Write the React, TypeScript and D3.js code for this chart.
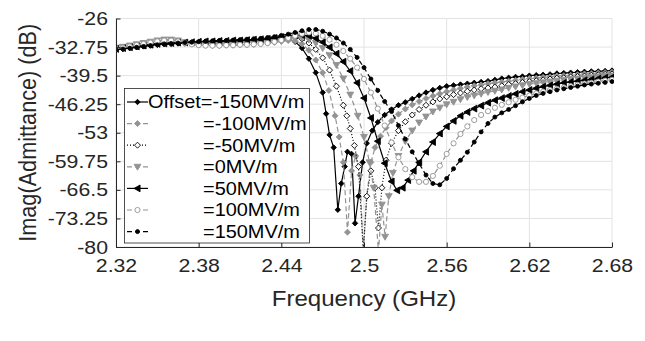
import React, { useEffect, useRef } from "react";
import { select, scaleLinear, line, axisLeft, axisBottom } from "d3";

// tick labels
const xTicks = [2.32, 2.38, 2.44, 2.5, 2.56, 2.62, 2.68];
const yTicks = [-26, -32.75, -39.5, -46.25, -53, -59.75, -66.5, -73.25, -80];

// [frequency GHz, Imag(Y) dB]
const offsetM150 = [
  [2.32, -33.4], [2.325, -33.2], [2.33, -33.0], [2.335, -32.8], [2.34, -32.6], [2.345, -32.4], [2.35, -32.2],
  [2.355, -32.1], [2.36, -32.0], [2.365, -31.9], [2.37, -31.9], [2.375, -31.8], [2.38, -31.7], [2.385, -31.6],
  [2.39, -31.6], [2.395, -31.5], [2.4, -31.5], [2.405, -31.4], [2.41, -31.4], [2.415, -31.3], [2.42, -31.2],
  [2.425, -31.1], [2.43, -31.0], [2.435, -30.9], [2.44, -30.8], [2.445, -30.9], [2.45, -31.5], [2.455, -33.0],
  [2.46, -35.5], [2.465, -38.8], [2.47, -43.5], [2.4725, -48.5], [2.475, -53.5], [2.478, -56.5], [2.481, -71.2],
  [2.4835, -65.0], [2.486, -61.0], [2.488, -57.5], [2.491, -58.0], [2.4935, -74.4], [2.496, -68.0], [2.499, -60.0],
  [2.502, -55.5], [2.506, -52.5], [2.51, -50.5], [2.515, -48.8], [2.52, -47.5], [2.525, -46.5], [2.53, -45.8],
  [2.535, -45.0], [2.54, -44.2], [2.545, -43.5], [2.55, -42.9], [2.555, -42.4], [2.56, -42.0], [2.565, -41.8],
  [2.57, -41.6], [2.575, -41.4], [2.58, -41.2], [2.585, -41.0], [2.59, -40.8], [2.595, -40.5], [2.6, -40.2],
  [2.605, -40.0], [2.61, -39.8], [2.615, -39.7], [2.62, -39.5], [2.625, -39.4], [2.63, -39.3], [2.635, -39.2],
  [2.64, -39.0], [2.645, -38.9], [2.65, -38.8], [2.655, -38.7], [2.66, -38.6], [2.665, -38.5], [2.67, -38.5],
  [2.675, -38.4], [2.68, -38.3],
];

const offsetM100 = [
  [2.32, -33.0], [2.325, -32.8], [2.33, -32.5], [2.335, -32.2], [2.34, -31.9], [2.345, -31.6], [2.35, -31.3],
  [2.355, -31.1], [2.36, -31.1], [2.365, -31.3], [2.37, -31.7], [2.375, -32.0], [2.38, -32.2], [2.385, -32.3],
  [2.39, -32.4], [2.395, -32.4], [2.4, -32.3], [2.405, -32.3], [2.41, -32.2], [2.415, -32.2], [2.42, -32.1],
  [2.425, -32.0], [2.43, -31.8], [2.435, -31.6], [2.44, -31.4], [2.445, -31.2], [2.45, -31.3], [2.455, -32.0],
  [2.46, -33.5], [2.465, -35.8], [2.47, -38.8], [2.4745, -43.0], [2.479, -49.0], [2.482, -54.0], [2.485, -60.0],
  [2.488, -76.5], [2.491, -62.0], [2.494, -58.5], [2.497, -63.0], [2.4995, -81.0], [2.502, -68.0], [2.505, -60.0],
  [2.508, -56.5], [2.512, -53.8], [2.516, -51.8], [2.52, -50.2], [2.525, -48.6], [2.53, -47.4], [2.535, -46.4],
  [2.54, -45.6], [2.545, -44.9], [2.55, -44.3], [2.555, -43.8], [2.56, -43.3], [2.565, -42.9], [2.57, -42.5],
  [2.575, -42.2], [2.58, -41.9], [2.585, -41.7], [2.59, -41.4], [2.595, -41.2], [2.6, -41.0], [2.605, -40.8],
  [2.61, -40.6], [2.615, -40.4], [2.62, -40.2], [2.625, -40.1], [2.63, -39.9], [2.635, -39.8], [2.64, -39.6],
  [2.645, -39.5], [2.65, -39.4], [2.655, -39.3], [2.66, -39.1], [2.665, -39.0], [2.67, -38.9], [2.675, -38.8],
  [2.68, -38.7],
];

const offsetM50 = [
  [2.32, -33.3], [2.325, -33.1], [2.33, -32.9], [2.335, -32.7], [2.34, -32.5], [2.345, -32.3], [2.35, -32.1],
  [2.355, -32.0], [2.36, -31.9], [2.365, -31.8], [2.37, -31.8], [2.375, -31.7], [2.38, -31.6], [2.385, -31.5],
  [2.39, -31.5], [2.395, -31.4], [2.4, -31.4], [2.405, -31.3], [2.41, -31.3], [2.415, -31.2], [2.42, -31.1],
  [2.425, -31.0], [2.43, -30.9], [2.435, -30.8], [2.44, -30.6], [2.445, -30.4], [2.45, -30.4], [2.455, -30.8],
  [2.46, -31.8], [2.465, -33.3], [2.47, -35.3], [2.475, -38.2], [2.48, -42.0], [2.485, -46.5], [2.4875, -49.0],
  [2.49, -52.0], [2.493, -56.0], [2.496, -61.0], [2.4995, -81.0], [2.502, -68.0], [2.505, -62.0], [2.508, -66.0],
  [2.5105, -75.5], [2.513, -66.0], [2.516, -59.5], [2.52, -55.5], [2.525, -52.5], [2.53, -50.4], [2.535, -48.8],
  [2.54, -47.5], [2.545, -46.5], [2.55, -45.7], [2.555, -45.0], [2.56, -44.5], [2.565, -44.0], [2.57, -43.6],
  [2.575, -43.2], [2.58, -42.9], [2.585, -42.6], [2.59, -42.4], [2.595, -42.2], [2.6, -41.9], [2.605, -41.6],
  [2.61, -41.4], [2.615, -41.1], [2.62, -40.9], [2.625, -40.7], [2.63, -40.5], [2.635, -40.3], [2.64, -40.1],
  [2.645, -40.0], [2.65, -39.8], [2.655, -39.7], [2.66, -39.6], [2.665, -39.4], [2.67, -39.3], [2.675, -39.2],
  [2.68, -39.1],
];

const offset0 = [
  [2.32, -32.9], [2.325, -32.7], [2.33, -32.4], [2.335, -32.1], [2.34, -31.8], [2.345, -31.5], [2.35, -31.2],
  [2.355, -31.0], [2.36, -31.0], [2.365, -31.2], [2.37, -31.6], [2.375, -31.9], [2.38, -32.1], [2.385, -32.2],
  [2.39, -32.3], [2.395, -32.3], [2.4, -32.2], [2.405, -32.2], [2.41, -32.1], [2.415, -32.1], [2.42, -32.0],
  [2.425, -31.9], [2.43, -31.7], [2.435, -31.5], [2.44, -31.3], [2.445, -31.0], [2.45, -30.7], [2.455, -30.6],
  [2.46, -31.0], [2.465, -31.8], [2.47, -33.0], [2.475, -34.7], [2.48, -37.0], [2.485, -40.2], [2.49, -44.0],
  [2.4955, -49.0], [2.5, -54.0], [2.504, -60.0], [2.507, -66.0], [2.5105, -81.0], [2.513, -70.0], [2.5153, -77.6],
  [2.518, -68.0], [2.521, -62.5], [2.525, -58.5], [2.53, -55.0], [2.535, -52.5], [2.54, -50.6], [2.545, -49.2],
  [2.55, -48.0], [2.555, -47.1], [2.56, -46.3], [2.565, -45.7], [2.57, -45.1], [2.575, -44.6], [2.58, -44.2],
  [2.585, -43.8], [2.59, -43.4], [2.595, -43.1], [2.6, -42.8], [2.605, -42.4], [2.61, -42.1], [2.615, -41.8],
  [2.62, -41.5], [2.625, -41.3], [2.63, -41.1], [2.635, -40.9], [2.64, -40.7], [2.645, -40.5], [2.65, -40.3],
  [2.655, -40.2], [2.66, -40.0], [2.665, -39.9], [2.67, -39.7], [2.675, -39.6], [2.68, -39.5],
];

const offsetP50 = [
  [2.32, -33.2], [2.325, -33.0], [2.33, -32.8], [2.335, -32.6], [2.34, -32.4], [2.345, -32.2], [2.35, -32.0],
  [2.355, -31.9], [2.36, -31.8], [2.365, -31.7], [2.37, -31.7], [2.375, -31.6], [2.38, -31.5], [2.385, -31.4],
  [2.39, -31.4], [2.395, -31.3], [2.4, -31.3], [2.405, -31.2], [2.41, -31.2], [2.415, -31.1], [2.42, -31.0],
  [2.425, -30.9], [2.43, -30.8], [2.435, -30.6], [2.44, -30.4], [2.445, -30.2], [2.45, -30.0], [2.455, -29.9],
  [2.46, -30.1], [2.465, -30.7], [2.47, -31.6], [2.475, -32.8], [2.48, -34.3], [2.485, -36.2], [2.49, -38.4],
  [2.495, -41.2], [2.5, -44.8], [2.505, -49.5], [2.51, -55.0], [2.515, -60.2], [2.52, -64.5], [2.524, -66.6],
  [2.528, -66.0], [2.532, -64.2], [2.536, -62.0], [2.54, -60.0], [2.545, -57.5], [2.55, -55.2], [2.555, -53.2],
  [2.56, -51.5], [2.565, -50.2], [2.57, -49.0], [2.575, -48.1], [2.58, -47.3], [2.585, -46.6], [2.59, -45.9],
  [2.595, -45.3], [2.6, -44.8], [2.605, -44.3], [2.61, -43.8], [2.615, -43.3], [2.62, -42.9], [2.625, -42.5],
  [2.63, -42.1], [2.635, -41.8], [2.64, -41.5], [2.645, -41.2], [2.65, -41.0], [2.655, -40.8], [2.66, -40.6],
  [2.665, -40.4], [2.67, -40.2], [2.675, -40.0], [2.68, -39.9],
];

const offsetP100 = [
  [2.32, -33.1], [2.325, -32.9], [2.33, -32.6], [2.335, -32.3], [2.34, -32.0], [2.345, -31.7], [2.35, -31.4],
  [2.355, -31.2], [2.36, -31.2], [2.365, -31.4], [2.37, -31.8], [2.375, -32.1], [2.38, -32.3], [2.385, -32.4],
  [2.39, -32.4], [2.395, -32.4], [2.4, -32.3], [2.405, -32.3], [2.41, -32.2], [2.415, -32.2], [2.42, -32.1],
  [2.425, -32.0], [2.43, -31.8], [2.435, -31.5], [2.44, -31.1], [2.445, -30.6], [2.45, -30.1], [2.455, -29.6],
  [2.46, -29.3], [2.465, -29.5], [2.47, -30.1], [2.475, -31.0], [2.48, -32.2], [2.485, -33.7], [2.49, -35.5],
  [2.495, -37.6], [2.5, -40.3], [2.505, -43.5], [2.51, -47.3], [2.515, -51.3], [2.52, -55.3], [2.525, -58.8],
  [2.53, -61.6], [2.535, -63.5], [2.54, -64.6], [2.545, -64.6], [2.55, -63.2], [2.555, -60.8], [2.56, -58.0],
  [2.565, -55.5], [2.57, -53.3], [2.575, -51.5], [2.58, -50.0], [2.585, -48.8], [2.59, -47.9], [2.595, -47.1],
  [2.6, -46.4], [2.605, -45.8], [2.61, -45.2], [2.615, -44.7], [2.62, -44.2], [2.625, -43.7], [2.63, -43.3],
  [2.635, -42.9], [2.64, -42.6], [2.645, -42.3], [2.65, -42.0], [2.655, -41.7], [2.66, -41.4], [2.665, -41.2],
  [2.67, -40.9], [2.675, -40.7], [2.68, -40.5],
];

const offsetP150 = [
  [2.32, -33.4], [2.325, -33.2], [2.33, -33.0], [2.335, -32.8], [2.34, -32.6], [2.345, -32.4], [2.35, -32.2],
  [2.355, -32.0], [2.36, -31.9], [2.365, -31.8], [2.37, -31.7], [2.375, -31.6], [2.38, -31.5], [2.385, -31.4],
  [2.39, -31.3], [2.395, -31.2], [2.4, -31.2], [2.405, -31.1], [2.41, -31.0], [2.415, -30.9], [2.42, -30.8],
  [2.425, -30.7], [2.43, -30.5], [2.435, -30.3], [2.44, -30.0], [2.445, -29.7], [2.45, -29.3], [2.455, -28.9],
  [2.46, -28.6], [2.465, -28.6], [2.47, -29.0], [2.475, -29.7], [2.48, -30.6], [2.485, -31.8], [2.49, -33.3],
  [2.495, -35.2], [2.5, -37.6], [2.505, -40.3], [2.51, -43.0], [2.515, -45.6], [2.52, -48.0], [2.525, -51.3],
  [2.53, -54.5], [2.535, -57.5], [2.54, -60.3], [2.545, -63.0], [2.55, -65.0], [2.555, -65.3], [2.56, -63.8],
  [2.565, -61.5], [2.57, -59.5], [2.575, -57.6], [2.58, -55.2], [2.585, -52.8], [2.59, -50.8], [2.595, -49.3],
  [2.6, -48.3], [2.605, -47.5], [2.61, -46.6], [2.615, -45.7], [2.62, -44.9], [2.625, -44.2], [2.63, -43.7],
  [2.635, -43.3], [2.64, -42.9], [2.645, -42.6], [2.65, -42.3], [2.655, -42.0], [2.66, -41.7], [2.665, -41.5],
  [2.67, -41.3], [2.675, -41.1], [2.68, -40.9],
];

const legendLabels = ["Offset=-150MV/m", "=-100MV/m", "=-50MV/m", "=0MV/m", "=50MV/m", "=100MV/m", "=150MV/m"];

const GRAY = "#939393";
const FONT = "'Liberation Sans', Arial, Helvetica, sans-serif";
const STRETCH = 1.12; // text in the picture is a little wider than tall

// line + marker look for each series
const styles = [
  { data: offsetM150, color: "#000", dash: null, marker: "diamond", r: 2.7, fill: "#000" },
  { data: offsetM100, color: GRAY, dash: "5,3", marker: "diamond", r: 3, fill: GRAY },
  { data: offsetM50, color: "#000", dash: "1,2", marker: "diamond", r: 3, fill: "#fff" },
  { data: offset0, color: GRAY, dash: "5,3", marker: "triDown", r: 3.4, fill: GRAY },
  { data: offsetP50, color: "#000", dash: null, marker: "triLeft", r: 3.4, fill: "#000" },
  { data: offsetP100, color: GRAY, dash: "5,3", marker: "circle", r: 2.6, fill: "#fff" },
  { data: offsetP150, color: "#000", dash: "5,3", marker: "circle", r: 2, fill: "#000" },
];

const markerPath = (kind, r) => {
  if (kind === "diamond") return `M0,${-r}L${r},0L0,${r}L${-r},0Z`;
  if (kind === "triDown") return `M${-r},${-r * 0.75}L${r},${-r * 0.75}L0,${r}Z`;
  if (kind === "triLeft") return `M${-r},0L${r * 0.75},${-r}L${r * 0.75},${r}Z`;
  return `M${-r},0A${r},${r} 0 1,0 ${r},0A${r},${r} 0 1,0 ${-r},0Z`;
};

const W = 645;
const H = 341;
const margin = { left: 116, right: 612, top: 18.5, bottom: 247 };

export default function App() {
  const svgRef = useRef(null);

  useEffect(() => {
    const svg = select(svgRef.current);
    svg.selectAll("*").remove();

    const x = scaleLinear().domain([2.32, 2.68]).range([margin.left, margin.right]);
    const y = scaleLinear().domain([-80, -26]).range([margin.bottom, margin.top]);

    svg.append("rect").attr("width", W).attr("height", H).attr("fill", "#fff");

    svg
      .append("clipPath")
      .attr("id", "plotClip")
      .append("rect")
      .attr("x", margin.left)
      .attr("y", margin.top - 4)
      .attr("width", margin.right - margin.left + 2)
      .attr("height", margin.bottom - margin.top + 4);

    // grid
    const grid = svg.append("g").attr("stroke", "#e3e3e3").attr("stroke-width", 1);
    xTicks.forEach((t) => {
      grid.append("line").attr("x1", x(t)).attr("x2", x(t)).attr("y1", margin.top).attr("y2", margin.bottom);
    });
    yTicks.forEach((t) => {
      grid.append("line").attr("x1", margin.left).attr("x2", margin.right).attr("y1", y(t)).attr("y2", y(t));
    });

    // series
    const plot = svg.append("g").attr("clip-path", "url(#plotClip)");
    const lineGen = line()
      .x((d) => x(d[0]))
      .y((d) => y(d[1]));
    styles.forEach((s) => {
      const g = plot.append("g");
      g.append("path")
        .attr("d", lineGen(s.data))
        .attr("fill", "none")
        .attr("stroke", s.color)
        .attr("stroke-width", 1.2)
        .attr("stroke-dasharray", s.dash);
      g.selectAll("path.mk")
        .data(s.data)
        .join("path")
        .attr("class", "mk")
        .attr("transform", (d) => `translate(${x(d[0])},${y(d[1])})`)
        .attr("d", markerPath(s.marker, s.r))
        .attr("fill", s.fill)
        .attr("stroke", s.color)
        .attr("stroke-width", 0.9);
    });

    // axes
    const yAxis = axisLeft(y)
      .tickValues(yTicks)
      .tickSizeInner(-4.5)
      .tickSizeOuter(0)
      .tickPadding(8 / STRETCH)
      .tickFormat((d) => String(d));
    const xAxis = axisBottom(x)
      .tickValues(xTicks)
      .tickSizeInner(-4.5)
      .tickSizeOuter(0)
      .tickPadding(12)
      .tickFormat((d) => String(d));

    const gy = svg.append("g").attr("transform", `translate(${margin.left},0)`).call(yAxis);
    const gx = svg.append("g").attr("transform", `translate(0,${margin.bottom})`).call(xAxis);
    [gx, gy].forEach((g) => {
      g.select(".domain").attr("stroke", "#262626");
      g.selectAll(".tick line").attr("stroke", "#262626");
      g.selectAll(".tick text")
        .attr("fill", "#262626")
        .attr("font-size", 19)
        .attr("font-family", FONT)
        .attr("transform", `scale(${STRETCH},1)`);
    });

    // axis titles
    svg
      .append("text")
      .attr("transform", `translate(36,${(margin.top + margin.bottom) / 2}) scale(${STRETCH},1) rotate(-90)`)
      .attr("text-anchor", "middle")
      .attr("font-size", 21.7)
      .attr("font-family", FONT)
      .attr("fill", "#262626")
      .text("Imag(Admittance) (dB)");
    svg
      .append("text")
      .attr("transform", `translate(${(margin.left + margin.right) / 2},306) scale(${STRETCH},1)`)
      .attr("text-anchor", "middle")
      .attr("font-size", 21.5)
      .attr("font-family", FONT)
      .attr("fill", "#262626")
      .text("Frequency (GHz)");

    // legend
    const lg = svg.append("g");
    lg.append("rect")
      .attr("x", 124.5)
      .attr("y", 88.5)
      .attr("width", 185)
      .attr("height", 154.5)
      .attr("fill", "#fff")
      .attr("stroke", "#262626")
      .attr("stroke-width", 0.8);
    styles.forEach((s, i) => {
      const cy = 102 + i * 21.6;
      lg.append("line")
        .attr("x1", 127)
        .attr("x2", 148)
        .attr("y1", cy)
        .attr("y2", cy)
        .attr("stroke", s.color)
        .attr("stroke-width", 1.2)
        .attr("stroke-dasharray", s.dash);
      lg.append("path")
        .attr("transform", `translate(137.5,${cy})`)
        .attr("d", markerPath(s.marker, s.r))
        .attr("fill", s.fill)
        .attr("stroke", s.color)
        .attr("stroke-width", 0.9);
      lg.append("text")
        .attr("transform", `translate(${i === 0 ? 148 : 203},${cy}) scale(${STRETCH},1)`)
        .attr("dy", "0.36em")
        .attr("font-size", 17.8)
        .attr("font-family", FONT)
        .attr("fill", "#000")
        .text(legendLabels[i]);
    });
  }, []);

  return (
    <div style={{ position: "absolute", left: 0, top: 0, width: W, height: H, background: "#fff" }}>
      <svg ref={svgRef} width={W} height={H} style={{ display: "block" }} />
    </div>
  );
}
